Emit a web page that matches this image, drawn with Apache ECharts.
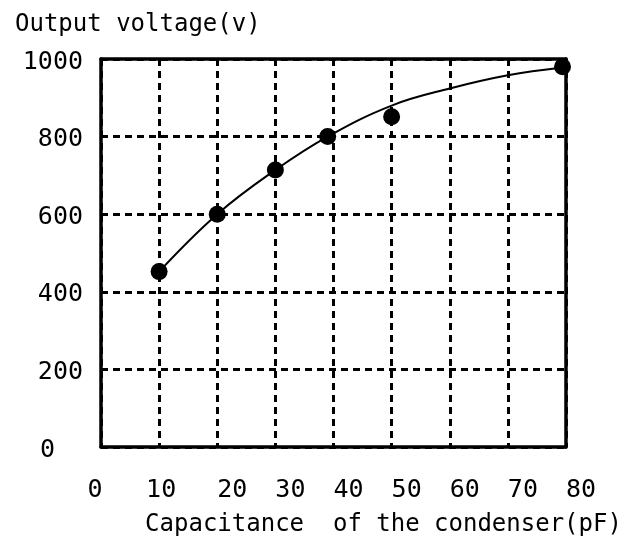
<!DOCTYPE html>
<html><head><meta charset="utf-8">
<script src="https://cdn.jsdelivr.net/npm/echarts@6/dist/echarts.min.js"></script>
<style>html,body{margin:0;padding:0;background:#fff}#c{width:639px;height:543px}</style>
</head><body><div id="c"></div>
<script>
const titleText = 'Output voltage(v)';
const xName = 'Capacitance  of the condenser(pF)';
const xTicks = [0, 10, 20, 30, 40, 50, 60, 70, 80];
const yTicks = [0, 200, 400, 600, 800, 1000];
const measX = [10, 20, 30, 39, 50, 79.4];
const measY = [452, 600, 714, 800, 851, 980];
const fitX = [10, 20, 30, 39, 50, 60, 70, 79.4];
const fitY = [452, 600, 714, 800, 880, 924, 958, 978];

const FONT = 'DejaVu Sans Mono';
const FS = 25;
const chart = echarts.init(document.getElementById('c'));
const boxLine = {show: true, onZero: false, lineStyle: {color: '#000', width: 3.5}};
chart.setOption({
  backgroundColor: '#fff',
  animation: false,
  title: {
    text: titleText, left: 10, top: 8,
    textStyle: {fontFamily: FONT, fontSize: 24, fontWeight: 'normal', color: '#000'}
  },
  grid: {left: 101, right: 73, top: 59, bottom: 96, show: false},
  xAxis: [{
    type: 'value', min: xTicks[0], max: xTicks[xTicks.length - 1], interval: 10,
    name: xName, nameLocation: 'middle', nameGap: 66,
    nameTextStyle: {fontFamily: FONT, fontSize: 24, color: '#000', padding: [0, 0, 0, 100]},
    axisLine: boxLine, axisTick: {show: false},
    axisLabel: {
      margin: 31, fontFamily: FONT, fontSize: FS, color: '#000',
      formatter: v => v === 0 ? '{z|0}' : (v >= 20 ? '{s|' + v + '}' : '{n|' + v + '}'),
      rich: {
        z: {fontFamily: FONT, fontSize: FS, color: '#000', padding: [0, 12, 0, 0]},
        n: {fontFamily: FONT, fontSize: FS, color: '#000', padding: [0, 0, 0, 4]},
        s: {fontFamily: FONT, fontSize: FS, color: '#000', padding: [0, 0, 0, 30]}
      }
    },
    splitLine: {show: true, lineStyle: {color: '#000', width: 3, type: [7, 5]}}
  }, {
    type: 'value', position: 'top', min: xTicks[0], max: xTicks[xTicks.length - 1], interval: 10,
    axisLine: boxLine, axisTick: {show: false}, axisLabel: {show: false}, splitLine: {show: false}
  }],
  yAxis: [{
    type: 'value', min: yTicks[0], max: yTicks[yTicks.length - 1], interval: 200,
    axisLine: boxLine, axisTick: {show: false},
    axisLabel: {
      margin: 18, fontFamily: FONT, fontSize: FS, color: '#000',
      formatter: v => v === 0 ? '{z|0}' : '{n|' + v + '}',
      rich: {
        z: {fontFamily: FONT, fontSize: FS, color: '#000', padding: [6, 28, 0, 0]},
        n: {fontFamily: FONT, fontSize: FS, color: '#000', padding: [6, 0, 0, 0]}
      }
    },
    splitLine: {show: true, lineStyle: {color: '#000', width: 3, type: [7, 5]}}
  }, {
    type: 'value', position: 'right', min: yTicks[0], max: yTicks[yTicks.length - 1], interval: 200,
    axisLine: boxLine, axisTick: {show: false}, axisLabel: {show: false}, splitLine: {show: false}
  }],
  series: [
    {
      type: 'line', smooth: 0.4, showSymbol: false, symbol: 'none',
      data: fitX.map((x, i) => [x, fitY[i]]),
      lineStyle: {color: '#000', width: 2}, z: 3
    },
    {
      type: 'scatter', symbol: 'circle', symbolSize: 17,
      data: measX.map((x, i) => [x, measY[i]]),
      itemStyle: {color: '#000', opacity: 1}, z: 4
    }
  ]
});
</script></body></html>
